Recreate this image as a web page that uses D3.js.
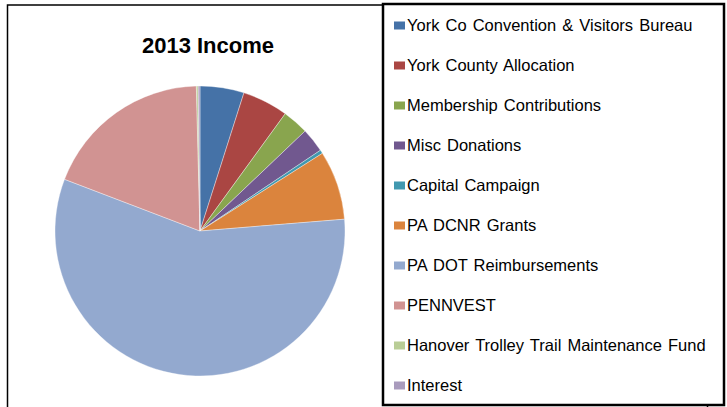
<!DOCTYPE html>
<html>
<head>
<meta charset="utf-8">
<script src="https://cdn.jsdelivr.net/npm/d3@7"></script>
<style>
  body { margin: 0; background: #fff; }
  svg { display: block; }
</style>
</head>
<body>
<div id="chart"></div>
<script>
// 2013 income categories and their share (%)
var categories = [
    "York Co Convention & Visitors Bureau",
    "York County Allocation",
    "Membership Contributions",
    "Misc Donations",
    "Capital Campaign",
    "PA DCNR Grants",
    "PA DOT Reimbursements",
    "PENNVEST",
    "Hanover Trolley Trail Maintenance Fund",
    "Interest"
];
var shares = [4.9, 5.1, 2.9, 2.7, 0.4, 7.7, 57.1, 18.8, 0.2, 0.2];
var colors = ["#4572A7", "#AA4643", "#89A54E", "#71588F", "#4198AF",
              "#DB843D", "#93A9CF", "#D19392", "#B9CD96", "#A99BBD"];
var title = "2013 Income";

var svgWidth = 727;
var svgHeight = 407;

var svg = d3.select("#chart")
    .append("svg")
    .attr("width", svgWidth)
    .attr("height", svgHeight);

// outer chart frame (right and bottom edges run under the legend / off the page)
svg.append("rect")
    .attr("x", 7.5)
    .attr("y", 5)
    .attr("width", 700)
    .attr("height", 420)
    .attr("fill", "#fff")
    .attr("stroke", "#000")
    .attr("stroke-width", 1.5);

// title
svg.append("text")
    .attr("x", 208)
    .attr("y", 52.5)
    .attr("text-anchor", "middle")
    .attr("font-family", "'Liberation Sans', Arial, sans-serif")
    .attr("font-weight", "bold")
    .attr("font-size", "22px")
    .text(title);

// pie
var data = categories.map(function(c, i) {
    return { name: c, value: shares[i], color: colors[i] };
});

var pie = d3.pie()
    .sort(null)
    .value(d => d.value);

var arc = d3.arc()
    .innerRadius(0)
    .outerRadius(145);

var pieGroup = svg.append("g")
    .attr("transform", "translate(200,231)");

pieGroup.selectAll("path")
    .data(pie(data))
    .enter()
    .append("path")
    .attr("d", arc)
    .attr("fill", d => d.data.color)
    .attr("stroke", "#fff")
    .attr("stroke-opacity", 0.6)
    .attr("stroke-width", 0.6);

// legend box
svg.append("rect")
    .attr("x", 383)
    .attr("y", 4)
    .attr("width", 341)
    .attr("height", 401)
    .attr("fill", "#fff")
    .attr("stroke", "#000")
    .attr("stroke-width", 2.5);

var rowY = d3.scalePoint()
    .domain(categories)
    .range([31, 391]);

var legend = svg.append("g")
    .selectAll("g")
    .data(data)
    .enter()
    .append("g")
    .attr("transform", d => `translate(0,${rowY(d.name)})`);

legend.append("rect")
    .attr("x", 394)
    .attr("y", -9.5)
    .attr("width", 11)
    .attr("height", 8)
    .attr("fill", d => d.color);

legend.append("text")
    .attr("x", 407)
    .attr("y", 0)
    .attr("font-family", "'Liberation Sans', Arial, sans-serif")
    .attr("font-size", "16.5px")
    .attr("word-spacing", "1.5px")
    .attr("fill", "#000")
    .text(d => d.name);
</script>
</body>
</html>
